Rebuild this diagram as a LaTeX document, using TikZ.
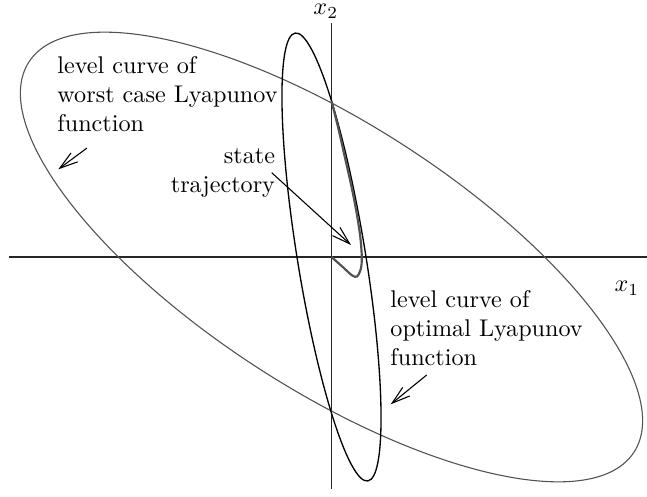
\documentclass[tikz,border=0pt]{standalone}
\usetikzlibrary{arrows.meta}
\begin{document}
\begin{tikzpicture}[x=0.414pt,y=0.414pt,
  axis/.style={draw=black!85,line width=0.75pt},
  worstcurve/.style={draw=black!68,line width=0.45pt},
  optcurve/.style={draw=black,line width=0.55pt},
  traj/.style={draw=black!68,line width=0.9pt,line join=round},
  pointer/.style={draw=black,line width=0.45pt,-{Straight Barb[length=7.5pt,width=4.6pt]}},
  lbl/.style={inner sep=0pt,font=\normalsize}]
\useasboundingbox (-331.5,-239) rectangle (315.5,257);
% axes
\coordinate (xl) at (-322.5,0);
\coordinate (xr) at (315.5,0);
\coordinate (yb) at (0,-232);
\coordinate (yt) at (0,234);
\coordinate (O) at (0,0);
\draw[axis] (xl) -- (xr);
\draw[axis] (yb) -- (yt);
\node[lbl] (lx2) at (-5.7,245.5) {$x_2$};
\node[lbl] (lx1) at (295.5,-31.5) {$x_1$};
% level curves
\draw[worstcurve,rotate=-32.8] (O) ellipse [x radius=149.04pt, y radius=55.1pt];
\draw[optcurve,rotate=9.22] (O) ellipse [x radius=14.12pt, y radius=93.94pt];
% state trajectory
\draw[traj] plot[smooth,tension=0.55] coordinates {(0,156) (7,128) (14,97) (20.5,68) (25.5,42) (28.8,20) (30.3,0) (29.3,-12) (25.5,-19.5) (20.5,-18.3) (11.8,-10.5) (0,0)};
% labels
\node[lbl,align=left,anchor=north west] (worst) at (-274.5,201) {level curve of\\worst case Lyapunov\\function};
\node[lbl,align=right,anchor=north east] (state) at (-56,108.6) {state\\trajectory};
\node[lbl,align=left,anchor=north west] (opt) at (58.5,-33) {level curve of\\optimal Lyapunov\\function};
% pointers
\coordinate (wtail) at (-244.5,109);
\coordinate (wtip) at (-273.2,87.7);
\coordinate (stail) at (-59.8,84.3);
\coordinate (stip) at (19.5,12);
\coordinate (otail) at (95.2,-118);
\coordinate (otip) at (59.2,-147.3);
\draw[pointer] (wtail) -- (wtip);
\draw[pointer] (stail) -- (stip);
\draw[pointer] (otail) -- (otip);
\end{tikzpicture}
\end{document}
